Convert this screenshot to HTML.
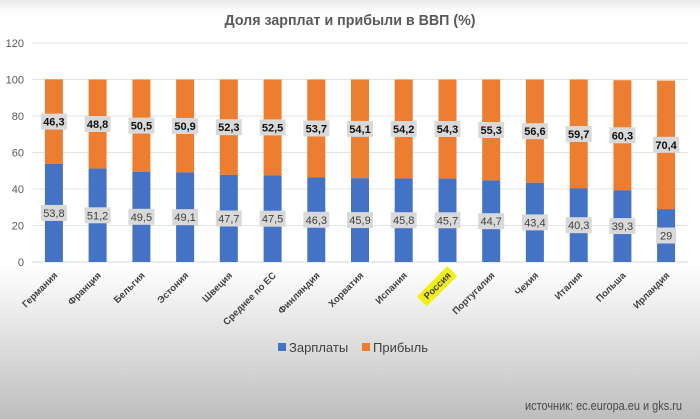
<!DOCTYPE html>
<html><head><meta charset="utf-8"><style>
html,body{margin:0;padding:0;}
body{width:700px;height:419px;overflow:hidden;}
svg{display:block;font-family:"Liberation Sans","DejaVu Sans",sans-serif;}
</style></head><body>
<svg width="700" height="419" viewBox="0 0 700 419" xmlns="http://www.w3.org/2000/svg">
<defs>
<linearGradient id="bg" x1="0" y1="0" x2="0" y2="1">
<stop offset="0" stop-color="#e9e9e9"/>
<stop offset="0.025" stop-color="#fbfbfb"/>
<stop offset="0.05" stop-color="#ffffff"/>
<stop offset="0.63" stop-color="#ffffff"/>
<stop offset="0.72" stop-color="#f0f0f0"/>
<stop offset="0.80" stop-color="#e1e1e1"/>
<stop offset="0.93" stop-color="#cbcbcb"/>
<stop offset="1" stop-color="#bdbdbd"/>
</linearGradient>
</defs>
<rect x="0" y="0" width="700" height="419" fill="url(#bg)"/>

<text x="350" y="25" text-anchor="middle" font-size="15" font-weight="bold" fill="#595959" textLength="251" lengthAdjust="spacingAndGlyphs">Доля зарплат и прибыли в ВВП (%)</text>

<g stroke="#e3e3e3" stroke-width="1">
<line x1="32" y1="43" x2="688" y2="43"/>
<line x1="32" y1="79.5" x2="688" y2="79.5"/>
<line x1="32" y1="116" x2="688" y2="116"/>
<line x1="32" y1="152.5" x2="688" y2="152.5"/>
<line x1="32" y1="189" x2="688" y2="189"/>
<line x1="32" y1="225.5" x2="688" y2="225.5"/>
<line x1="32" y1="262" x2="688" y2="262" stroke="#d9d9d9"/>
</g>
<g font-size="11" fill="#595959" text-anchor="end">
<text x="24" y="47">120</text>
<text x="24" y="83.5">100</text>
<text x="24" y="120">80</text>
<text x="24" y="156.5">60</text>
<text x="24" y="193">40</text>
<text x="24" y="229.5">20</text>
<text x="24" y="266">0</text>
</g>

<!-- bars -->
<g>
<rect x="44.9" y="79.3" width="18" height="84.5" fill="#ed7d31"/><rect x="44.9" y="163.8" width="18" height="98.2" fill="#4472c4"/>
<rect x="88.6" y="79.5" width="18" height="89.1" fill="#ed7d31"/><rect x="88.6" y="168.6" width="18" height="93.4" fill="#4472c4"/>
<rect x="132.4" y="79.5" width="18" height="92.2" fill="#ed7d31"/><rect x="132.4" y="171.7" width="18" height="90.3" fill="#4472c4"/>
<rect x="176.1" y="79.5" width="18" height="92.9" fill="#ed7d31"/><rect x="176.1" y="172.4" width="18" height="89.6" fill="#4472c4"/>
<rect x="219.8" y="79.5" width="18" height="95.4" fill="#ed7d31"/><rect x="219.8" y="174.9" width="18" height="87.1" fill="#4472c4"/>
<rect x="263.6" y="79.5" width="18" height="95.8" fill="#ed7d31"/><rect x="263.6" y="175.3" width="18" height="86.7" fill="#4472c4"/>
<rect x="307.3" y="79.5" width="18" height="98" fill="#ed7d31"/><rect x="307.3" y="177.5" width="18" height="84.5" fill="#4472c4"/>
<rect x="351" y="79.5" width="18" height="98.7" fill="#ed7d31"/><rect x="351" y="178.2" width="18" height="83.8" fill="#4472c4"/>
<rect x="394.7" y="79.5" width="18" height="98.9" fill="#ed7d31"/><rect x="394.7" y="178.4" width="18" height="83.6" fill="#4472c4"/>
<rect x="438.5" y="79.5" width="18" height="99.1" fill="#ed7d31"/><rect x="438.5" y="178.6" width="18" height="83.4" fill="#4472c4"/>
<rect x="482.2" y="79.5" width="18" height="100.9" fill="#ed7d31"/><rect x="482.2" y="180.4" width="18" height="81.6" fill="#4472c4"/>
<rect x="525.9" y="79.5" width="18" height="103.3" fill="#ed7d31"/><rect x="525.9" y="182.8" width="18" height="79.2" fill="#4472c4"/>
<rect x="569.7" y="79.5" width="18" height="109" fill="#ed7d31"/><rect x="569.7" y="188.5" width="18" height="73.5" fill="#4472c4"/>
<rect x="613.4" y="80.2" width="18" height="110.1" fill="#ed7d31"/><rect x="613.4" y="190.3" width="18" height="71.7" fill="#4472c4"/>
<rect x="657.1" y="80.6" width="18" height="128.5" fill="#ed7d31"/><rect x="657.1" y="209.1" width="18" height="52.9" fill="#4472c4"/>
</g>

<!-- profit labels -->
<g font-size="11" font-weight="bold" fill="#111" text-anchor="middle">
<rect x="40.9" y="113.6" width="26" height="16" fill="#d9d9d9"/><text x="53.9" y="125.6">46,3</text>
<rect x="84.6" y="116" width="26" height="16" fill="#d9d9d9"/><text x="97.6" y="128">48,8</text>
<rect x="128.4" y="117.6" width="26" height="16" fill="#d9d9d9"/><text x="141.4" y="129.6">50,5</text>
<rect x="172.1" y="118" width="26" height="16" fill="#d9d9d9"/><text x="185.1" y="130">50,9</text>
<rect x="215.8" y="119.2" width="26" height="16" fill="#d9d9d9"/><text x="228.8" y="131.2">52,3</text>
<rect x="259.6" y="119.4" width="26" height="16" fill="#d9d9d9"/><text x="272.6" y="131.4">52,5</text>
<rect x="303.3" y="120.5" width="26" height="16" fill="#d9d9d9"/><text x="316.3" y="132.5">53,7</text>
<rect x="347" y="120.9" width="26" height="16" fill="#d9d9d9"/><text x="360" y="132.9">54,1</text>
<rect x="390.7" y="121" width="26" height="16" fill="#d9d9d9"/><text x="403.7" y="133">54,2</text>
<rect x="434.5" y="121" width="26" height="16" fill="#d9d9d9"/><text x="447.5" y="133">54,3</text>
<rect x="478.2" y="122" width="26" height="16" fill="#d9d9d9"/><text x="491.2" y="134">55,3</text>
<rect x="521.9" y="123.2" width="26" height="16" fill="#d9d9d9"/><text x="534.9" y="135.2">56,6</text>
<rect x="565.7" y="126" width="26" height="16" fill="#d9d9d9"/><text x="578.7" y="138">59,7</text>
<rect x="609.4" y="127.3" width="26" height="16" fill="#d9d9d9"/><text x="622.4" y="139.3">60,3</text>
<rect x="653.1" y="136.8" width="26" height="16" fill="#d9d9d9"/><text x="666.1" y="148.8">70,4</text>
</g>

<!-- wage labels -->
<g font-size="11" fill="#404040" text-anchor="middle">
<rect x="40.9" y="204.9" width="26" height="16" fill="#d9d9d9"/><text x="53.9" y="216.9">53,8</text>
<rect x="84.6" y="207.3" width="26" height="16" fill="#d9d9d9"/><text x="97.6" y="219.3">51,2</text>
<rect x="128.4" y="208.8" width="26" height="16" fill="#d9d9d9"/><text x="141.4" y="220.8">49,5</text>
<rect x="172.1" y="209.2" width="26" height="16" fill="#d9d9d9"/><text x="185.1" y="221.2">49,1</text>
<rect x="215.8" y="210.5" width="26" height="16" fill="#d9d9d9"/><text x="228.8" y="222.5">47,7</text>
<rect x="259.6" y="210.7" width="26" height="16" fill="#d9d9d9"/><text x="272.6" y="222.7">47,5</text>
<rect x="303.3" y="211.8" width="26" height="16" fill="#d9d9d9"/><text x="316.3" y="223.8">46,3</text>
<rect x="347" y="212.1" width="26" height="16" fill="#d9d9d9"/><text x="360" y="224.1">45,9</text>
<rect x="390.7" y="212.2" width="26" height="16" fill="#d9d9d9"/><text x="403.7" y="224.2">45,8</text>
<rect x="434.5" y="212.3" width="26" height="16" fill="#d9d9d9"/><text x="447.5" y="224.3">45,7</text>
<rect x="478.2" y="213.2" width="26" height="16" fill="#d9d9d9"/><text x="491.2" y="225.2">44,7</text>
<rect x="521.9" y="214.4" width="26" height="16" fill="#d9d9d9"/><text x="534.9" y="226.4">43,4</text>
<rect x="565.7" y="217.2" width="26" height="16" fill="#d9d9d9"/><text x="578.7" y="229.2">40,3</text>
<rect x="609.4" y="218.1" width="26" height="16" fill="#d9d9d9"/><text x="622.4" y="230.1">39,3</text>
<rect x="656.1" y="227.5" width="20" height="16" fill="#d9d9d9"/><text x="666.1" y="239.5">29</text>
</g>

<!-- x labels -->
<g font-size="9.5" font-weight="bold" fill="#404040" text-anchor="end">
<text transform="translate(58,276) rotate(-45)">Германия</text>
<text transform="translate(101.6,276) rotate(-45)">Франция</text>
<text transform="translate(145.4,276) rotate(-45)">Бельгия</text>
<text transform="translate(189.1,276) rotate(-45)">Эстония</text>
<text transform="translate(232.8,276) rotate(-45)">Швеция</text>
<text transform="translate(276.6,276) rotate(-45)">Среднее по ЕС</text>
<text transform="translate(320.3,276) rotate(-45)">Финляндия</text>
<text transform="translate(364,276) rotate(-45)">Хорватия</text>
<text transform="translate(407.7,276) rotate(-45)">Испания</text>
<g transform="translate(451.5,276) rotate(-45)">
<rect x="-39" y="-10" width="43" height="14" fill="#f2ef18"/>
<text x="0" y="0">Россия</text>
</g>
<text transform="translate(495.2,276) rotate(-45)">Португалия</text>
<text transform="translate(538.9,276) rotate(-45)">Чехия</text>
<text transform="translate(582.7,276) rotate(-45)">Италия</text>
<text transform="translate(626.4,276) rotate(-45)">Польша</text>
<text transform="translate(670.1,276) rotate(-45)">Ирландия</text>
</g>

<!-- legend -->
<rect x="278" y="343" width="8" height="8" fill="#4472c4"/>
<text x="289" y="352" font-size="13" fill="#404040">Зарплаты</text>
<rect x="362" y="343" width="8" height="8" fill="#ed7d31"/>
<text x="373" y="352" font-size="13" fill="#404040">Прибыль</text>

<text x="525" y="410" font-size="12.5" fill="#4a4a4a" textLength="157" lengthAdjust="spacingAndGlyphs">источник: ec.europa.eu и gks.ru</text>
</svg>
</body></html>
